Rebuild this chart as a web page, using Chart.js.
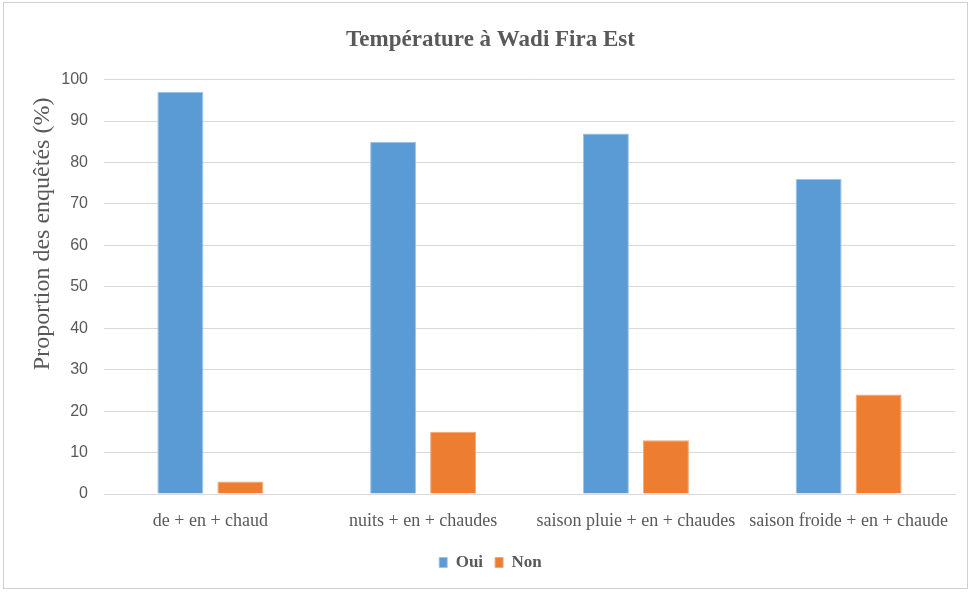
<!DOCTYPE html>
<html>
<head>
<meta charset="utf-8">
<script src="https://cdn.jsdelivr.net/npm/chart.js@4/dist/chart.umd.min.js"></script>
<style>
  html, body { margin: 0; padding: 0; background: #fff; }
  #wrap { position: absolute; left: 3px; top: 2px; width: 965px; height: 587px; border: 1px solid #d0d0d0; box-sizing: border-box; }
</style>
</head>
<body>
<div id="wrap"><canvas id="chart"></canvas></div>
<script>
const categories = ['de + en + chaud', 'nuits + en + chaudes', 'saison pluie + en + chaudes', 'saison froide + en + chaude'];
const oui = [97, 85, 87, 76];
const non = [3, 15, 13, 24];
const yTicks = [0, 10, 20, 30, 40, 50, 60, 70, 80, 90, 100];

const ctx = document.getElementById('chart');
new Chart(ctx, {
    type: 'bar',
    data: {
        labels: categories,
        datasets: [
            { label: 'Oui', data: oui, backgroundColor: '#5b9bd5', borderColor: '#9cc3e8', borderWidth: 1 },
            { label: 'Non', data: non, backgroundColor: '#ed7d31', borderColor: '#f3a877', borderWidth: 1 }
        ]
    },
    options: {
        responsive: true,
        maintainAspectRatio: false,
        animation: false,
        categoryPercentage: 0.564,
        barPercentage: 0.767,
        layout: { padding: { left: 22, right: 12, top: 10, bottom: 7 } },
        plugins: {
            title: {
                display: true,
                text: 'Température à Wadi Fira Est',
                color: '#595959',
                font: { family: 'Liberation Serif', size: 23, weight: 'bold' },
                padding: { top: 13, bottom: 26 }
            },
            legend: {
                position: 'bottom',
                labels: {
                    color: '#595959',
                    font: { family: 'Liberation Serif', size: 17, weight: 'bold' },
                    boxWidth: 8,
                    boxHeight: 10,
                    padding: 12
                }
            },
            tooltip: { enabled: false }
        },
        scales: {
            x: {
                grid: { display: false },
                border: { color: '#d9d9d9' },
                afterFit: (axis) => { axis.height = 48; },
                ticks: {
                    color: '#595959',
                    font: { family: 'Liberation Serif', size: 18 },
                    padding: 8,
                    maxRotation: 0
                }
            },
            y: {
                min: 0,
                max: 100,
                afterBuildTicks: (axis) => { axis.ticks = yTicks.map(v => ({ value: v })); },
                afterFit: (axis) => { axis.width = 78; },
                grid: { color: '#d9d9d9', drawTicks: false },
                border: { display: false },
                ticks: {
                    color: '#595959',
                    font: { family: 'Liberation Sans', size: 16 },
                    padding: 16
                },
                title: {
                    display: true,
                    text: 'Proportion des enquêtés (%)   ',
                    align: 'end',
                    color: '#595959',
                    font: { family: 'Liberation Serif', size: 24 },
                    padding: { top: 2, bottom: 2 }
                }
            }
        }
    }
});
</script>
</body>
</html>
